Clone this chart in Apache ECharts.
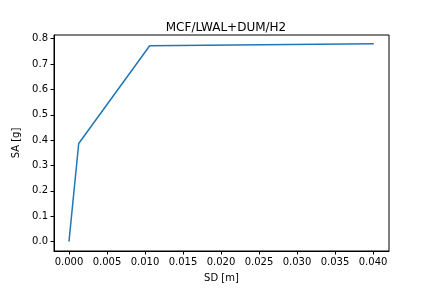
<!DOCTYPE html>
<html>
<head>
<meta charset="utf-8">
<script src="https://cdn.jsdelivr.net/npm/echarts@6/dist/echarts.min.js"></script>
<style>html,body{margin:0;padding:0;background:#fff}#c{width:432px;height:288px}</style>
</head>
<body>
<div id="c"></div>
<script>
var sdValues = [0.0, 0.00128, 0.01062, 0.0401];
var saValues = [0.0, 0.387, 0.772, 0.780];
var xTicks = [0.000, 0.005, 0.010, 0.015, 0.020, 0.025, 0.030, 0.035, 0.040];
var yTicks = [0.0, 0.1, 0.2, 0.3, 0.4, 0.5, 0.6, 0.7, 0.8];
var titleText = 'MCF/LWAL+DUM/H2';
var xName = 'SD [m]';
var yName = 'SA [g]';

var pts = sdValues.map(function(x, i){ return [x, saValues[i]]; });
var font = 'DejaVu Sans';
var chart = echarts.init(document.getElementById('c'), null, {renderer:'canvas'});
chart.setOption({
  animation: false,
  title: {text: titleText, left: 221, top: 17, textAlign: 'center',
    textStyle: {fontFamily: font, fontSize: 12, fontWeight: 'normal', color: '#000'}},
  grid: {left: 54, right: 43, top: 35, bottom: 36, show: true, borderColor: '#000', borderWidth: 1, backgroundColor: 'transparent'},
  xAxis: {type: 'value', min: -0.00197, max: 0.0421,
    name: xName, nameLocation: 'middle', nameGap: 22,
    nameTextStyle: {fontFamily: font, fontSize: 10, color: '#000'},
    axisLine: {show: true, onZero: false, lineStyle: {color: '#000', width: 1}},
    axisTick: {show: true, length: 3.5, customValues: xTicks, lineStyle: {color: '#000'}},
    axisLabel: {customValues: xTicks, fontFamily: font, fontSize: 10, color: '#000', margin: 6,
      formatter: function(v){ return v.toFixed(3); }},
    splitLine: {show: false}},
  yAxis: {type: 'value', min: -0.037, max: 0.8146,
    name: yName, nameLocation: 'middle', nameGap: 28, nameRotate: 90,
    nameTextStyle: {fontFamily: font, fontSize: 10, color: '#000'},
    axisLine: {show: true, onZero: false, lineStyle: {color: '#000', width: 1}},
    axisTick: {show: true, length: 3.5, customValues: yTicks, lineStyle: {color: '#000'}},
    axisLabel: {customValues: yTicks, fontFamily: font, fontSize: 10, color: '#000', margin: 6,
      formatter: function(v){ return v.toFixed(1); }},
    splitLine: {show: false}},
  series: [{type: 'line', data: pts, showSymbol: false, symbol: 'none',
    lineStyle: {color: '#1f77b4', width: 1.5}}]
});
</script>
</body>
</html>
